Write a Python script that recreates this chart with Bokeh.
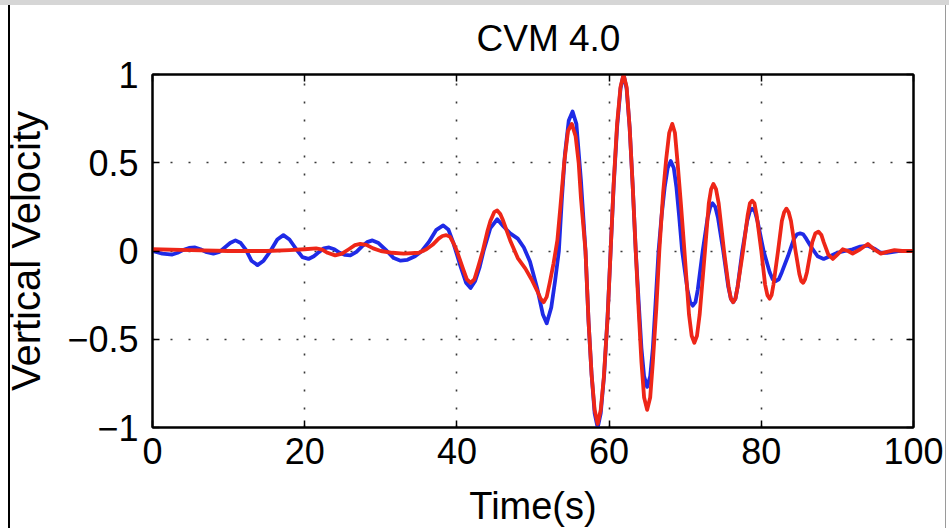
from bokeh.plotting import figure
from bokeh.models import LinearAxis, FixedTicker, Range1d
from bokeh.embed import file_html
from bokeh.resources import INLINE

# ---------------- data ----------------
title_text = "CVM 4.0"
x_label = "Time(s)"
y_label = "Vertical Velocity"
x_ticks = [0, 20, 40, 60, 80, 100]
y_ticks = [-1, -0.5, 0, 0.5, 1]
y_tick_labels = ["\u22121", "\u22120.5", "0", "0.5", "1"]

blue_t = [0, 1.3, 2.6, 3.3, 4.0, 4.8, 5.6, 6.3, 7.0, 8.0, 8.8, 9.5, 10.2, 10.9,
          11.6, 12.3, 13.0, 13.8, 14.6, 15.5, 16.4, 17.2, 18.0, 18.9, 19.7, 20.5,
          21.2, 21.9, 22.5, 23.2, 23.9, 24.6, 25.3, 26.0, 26.8, 27.5, 28.2, 28.9,
          29.7, 30.8, 31.7, 32.6, 33.5, 34.5, 35.4, 36.3, 37.3, 38.2, 38.9, 39.5,
          40.0, 40.5, 41.2, 41.8, 42.4, 43.0, 43.5, 44.4, 45.3, 46.1, 47.0, 48.0,
          48.8, 49.6, 50.6, 51.3, 51.8, 52.4, 52.9, 53.4, 53.8, 54.2, 54.7, 55.2,
          55.7, 56.3, 56.9, 57.3, 57.7, 58.1, 58.5, 58.9, 59.35, 59.8, 60.2, 60.6,
          61.05, 61.5, 61.9, 62.3, 62.7, 63.1, 63.5, 63.9, 64.25, 64.6, 65.0, 65.4,
          65.75, 66.1, 66.5, 66.9, 67.3, 67.7, 68.1, 68.5, 68.85, 69.2, 69.6, 70.3,
          70.65, 71.0, 71.35, 71.65, 72.3, 72.95, 73.3, 73.6, 73.95, 74.3, 75.0,
          75.65, 76.0, 76.3, 76.6, 76.9, 77.5, 78.15, 78.5, 78.8, 79.15, 79.5,
          80.3, 81.1, 81.5, 81.9, 82.3, 82.7, 83.5, 84.3, 84.7, 85.1, 85.5, 85.9,
          86.6, 87.4, 88.2, 89.0, 90.0, 91.0, 92.0, 93.0, 94.0, 95.0, 95.7, 96.5,
          98.0, 100.0]
blue_v = [0.0, -0.015, -0.02, -0.01, 0.005, 0.017, 0.02, 0.01, -0.005, -0.015,
          -0.005, 0.02, 0.045, 0.06, 0.045, 0.005, -0.055, -0.08, -0.055, 0.0,
          0.065, 0.09, 0.065, 0.01, -0.035, -0.045, -0.03, -0.005, 0.015, 0.02,
          0.01, -0.01, -0.022, -0.025, -0.005, 0.025, 0.05, 0.06, 0.045, 0.0,
          -0.04, -0.055, -0.05, -0.03, 0.0, 0.05, 0.12, 0.145, 0.12, 0.05, -0.02,
          -0.09, -0.18, -0.21, -0.17, -0.09, 0.0, 0.13, 0.18, 0.14, 0.1, 0.07,
          0.02, -0.06, -0.22, -0.36, -0.41, -0.32, -0.17, 0.0, 0.3, 0.55, 0.74,
          0.79, 0.72, 0.4, 0.0, -0.4, -0.7, -0.92, -1.0, -0.92, -0.7, -0.37, 0.0,
          0.37, 0.7, 0.92, 1.0, 0.92, 0.7, 0.37, 0.0, -0.3, -0.55, -0.71, -0.77,
          -0.71, -0.55, -0.3, 0.0, 0.2, 0.36, 0.47, 0.51, 0.47, 0.36, 0.2, 0.0,
          -0.22, -0.29, -0.31, -0.29, -0.22, 0.0, 0.19, 0.25, 0.27, 0.25, 0.19,
          0.0, -0.2, -0.27, -0.29, -0.27, -0.2, 0.0, 0.17, 0.225, 0.24, 0.225,
          0.17, 0.0, -0.12, -0.16, -0.17, -0.16, -0.12, -0.03, 0.07, 0.095, 0.10,
          0.095, 0.07, 0.02, -0.03, -0.045, -0.03, -0.01, 0.0, 0.01, 0.025, 0.03,
          0.01, -0.01, -0.01, 0.0, 0.0]

red_t = [0, 5, 10, 15, 18, 20, 21.5, 22.3, 23.0, 24.0, 24.9, 25.8, 26.6, 27.3,
         28.1, 29.0, 30.0, 31.5, 33, 35, 36.0, 36.8, 37.6, 38.1, 38.6, 39.1, 39.6,
         40.0, 40.8, 41.3, 41.8, 42.3, 42.8, 43.4, 44.0, 44.4, 44.9, 45.3, 45.7,
         46.0, 47.0, 48.0, 49.0, 49.8, 50.6, 51.0, 51.4, 51.8, 52.2, 52.7, 53.2,
         53.6, 54.1, 54.6, 55.1, 55.6, 56.0, 56.3, 56.9, 57.3, 57.7, 58.1, 58.5,
         58.9, 59.3, 59.8, 60.2, 60.6, 61.05, 61.5, 61.9, 62.3, 62.7, 63.1, 63.5,
         63.9, 64.25, 64.6, 65.0, 65.4, 65.75, 66.2, 66.6, 67.1, 67.5, 67.9, 68.3,
         68.65, 69.0, 69.45, 69.9, 70.5, 70.85, 71.2, 71.55, 71.9, 72.6, 73.1,
         73.4, 73.7, 74.05, 74.4, 75.1, 75.7, 76.0, 76.3, 76.6, 76.9, 77.6, 78.2,
         78.5, 78.8, 79.1, 79.4, 80.0, 80.5, 80.8, 81.1, 81.35, 81.6, 82.2, 82.7,
         83.0, 83.3, 83.6, 83.9, 84.5, 85.0, 85.25, 85.5, 85.75, 86.0, 86.7, 87.1,
         87.5, 87.9, 88.2, 88.8, 89.4, 90.0, 90.7, 91.4, 92.0, 93.0, 94.0, 94.8,
         95.7, 96.5, 97.5, 98.5, 100.0]
red_v = [0.01, 0.005, 0.0, 0.0, 0.005, 0.01, 0.015, 0.008, -0.01, -0.025, -0.015,
         0.01, 0.033, 0.04, 0.035, 0.015, 0.0, -0.01, -0.015, -0.01, 0.01, 0.035,
         0.07, 0.085, 0.09, 0.08, 0.04, 0.0, -0.1, -0.16, -0.18, -0.16, -0.09, 0.0,
         0.11, 0.17, 0.22, 0.23, 0.21, 0.18, 0.06, -0.04, -0.1, -0.16, -0.23,
         -0.27, -0.29, -0.26, -0.18, -0.07, 0.06, 0.25, 0.5, 0.68, 0.72, 0.65, 0.5,
         0.3, 0.0, -0.4, -0.7, -0.9, -0.98, -0.9, -0.72, -0.38, 0.0, 0.38, 0.72,
         0.93, 1.0, 0.93, 0.7, 0.37, 0.0, -0.35, -0.63, -0.83, -0.9, -0.83, -0.63,
         -0.33, 0.0, 0.33, 0.52, 0.67, 0.72, 0.67, 0.5, 0.26, 0.0, -0.36, -0.48,
         -0.52, -0.48, -0.36, 0.0, 0.27, 0.35, 0.38, 0.35, 0.27, 0.0, -0.2, -0.27,
         -0.29, -0.27, -0.2, 0.0, 0.2, 0.27, 0.285, 0.27, 0.2, 0.0, -0.19, -0.25,
         -0.27, -0.25, -0.19, 0.0, 0.17, 0.22, 0.24, 0.22, 0.17, 0.0, -0.13, -0.17,
         -0.18, -0.16, -0.12, 0.05, 0.1, 0.11, 0.09, 0.05, -0.02, -0.045, -0.02,
         0.01, 0.0, -0.015, 0.01, 0.04, 0.01, -0.015, -0.005, 0.005, 0.0, 0.0]

# ---------------- figure ----------------
FONT = "'Liberation Sans', Arial, Helvetica, sans-serif"

p = figure(frame_width=761, frame_height=353,
           min_border_left=152, min_border_right=36,
           min_border_top=74, min_border_bottom=101,
           x_range=Range1d(0, 100), y_range=Range1d(-1, 1),
           output_backend="svg", toolbar_location=None,
           title=title_text)
p.border_fill_color = None
p.background_fill_color = "white"
p.outline_line_color = "black"
p.outline_line_width = 2
p.styles = {"box-shadow": "inset 0 5px 0 #d6d6d6, inset 8px 0 0 #ffffff, inset 10px 0 0 #000000, inset -3px 0 0 #ffffff, inset -4px 0 0 #9a9a9a"}

p.title.align = "left"
p.title.offset = 324
p.title.vertical_align = "top"
p.title.standoff = 28
p.title.text_font = FONT
p.title.text_font_size = "37px"
p.title.text_font_style = "normal"
p.title.text_color = "black"

for ax in (p.xaxis[0], p.yaxis[0]):
    ax.axis_line_width = 2
    ax.axis_line_color = "black"
    ax.major_tick_in = 7
    ax.major_tick_out = 0
    ax.minor_tick_in = 0
    ax.minor_tick_out = 0
    ax.major_tick_line_width = 1.5
    ax.major_label_text_font = FONT
    ax.major_label_text_font_size = "36px"
    ax.major_label_text_color = "black"
    ax.axis_label_text_font = FONT
    ax.axis_label_text_font_style = "normal"
    ax.axis_label_text_color = "black"

p.xaxis[0].ticker = FixedTicker(ticks=x_ticks)
p.yaxis[0].ticker = FixedTicker(ticks=y_ticks)
p.yaxis[0].major_label_overrides = dict(zip(y_ticks, y_tick_labels))
p.xaxis[0].axis_label = x_label
p.yaxis[0].axis_label = y_label
p.xaxis[0].axis_label_text_font_size = "38px"
p.yaxis[0].axis_label_text_font_size = "40px"
p.xaxis[0].major_label_standoff = 10
p.yaxis[0].major_label_standoff = 14
p.xaxis[0].axis_label_standoff = 18
p.yaxis[0].axis_label_standoff = 16

for side, tk in (("above", x_ticks), ("right", y_ticks)):
    ax = LinearAxis(ticker=FixedTicker(ticks=tk))
    ax.axis_line_width = 2
    ax.major_tick_in = 7
    ax.major_tick_out = 0
    ax.minor_tick_in = 0
    ax.minor_tick_out = 0
    ax.major_tick_line_width = 1.5
    ax.major_label_text_font_size = "0px"
    ax.major_label_text_color = None
    ax.major_label_standoff = 0
    p.add_layout(ax, side)

for g, tk in ((p.xgrid[0], [20, 40, 60, 80]), (p.ygrid[0], [-0.5, 0, 0.5])):
    g.ticker = FixedTicker(ticks=tk)
    g.grid_line_color = "#222222"
    g.grid_line_width = 1.6
    g.grid_line_dash = "2 16"
    g.grid_line_alpha = 0.9

p.line(blue_t, blue_v, line_color="#1f2ae6", line_width=3.8, line_join="round")
p.line(red_t, red_v, line_color="#ee2618", line_width=3.8, line_join="round")

open("out.html", "w").write(file_html(p, INLINE))
